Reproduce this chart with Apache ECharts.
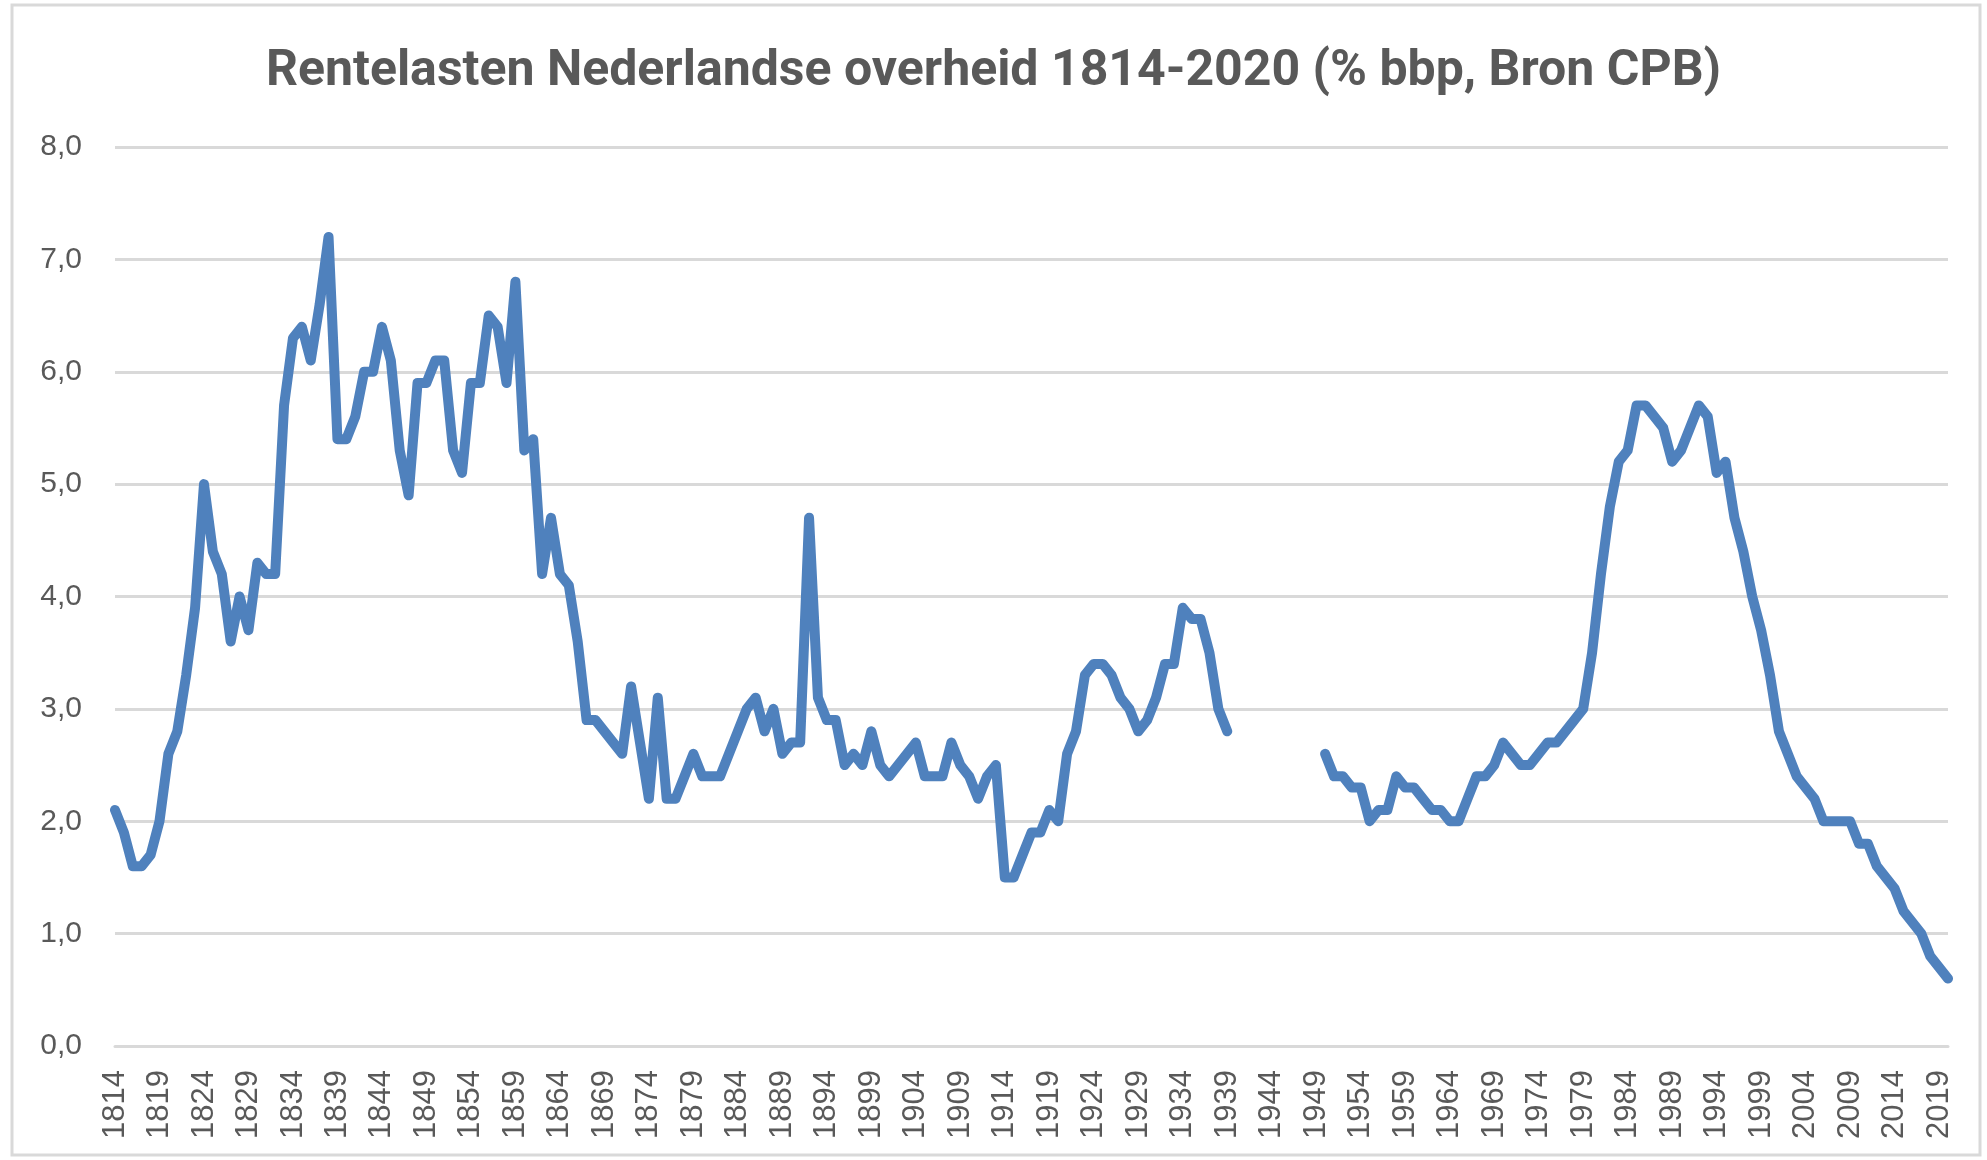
<!DOCTYPE html>
<html>
<head>
<meta charset="utf-8">
<script src="https://cdn.jsdelivr.net/npm/echarts@6/dist/echarts.min.js"></script>
<style>
  html, body { margin: 0; padding: 0; background: #ffffff; }
  #chart { width: 1987px; height: 1160px; }
</style>
</head>
<body>
<div id="chart"></div>
<script>
// Years 1814-2020
const years = [];
for (let y = 1814; y <= 2020; y++) years.push(String(y));

// Interest burden (% of GDP), one row per decade
const v1814 = [2.1, 1.9, 1.6, 1.6, 1.7, 2.0, 2.6, 2.8, 3.3, 3.9];
const v1824 = [5.0, 4.4, 4.2, 3.6, 4.0, 3.7, 4.3, 4.2, 4.2, 5.7];
const v1834 = [6.3, 6.4, 6.1, 6.6, 7.2, 5.4, 5.4, 5.6, 6.0, 6.0];
const v1844 = [6.4, 6.1, 5.3, 4.9, 5.9, 5.9, 6.1, 6.1, 5.3, 5.1];
const v1854 = [5.9, 5.9, 6.5, 6.4, 5.9, 6.8, 5.3, 5.4, 4.2, 4.7];
const v1864 = [4.2, 4.1, 3.6, 2.9, 2.9, 2.8, 2.7, 2.6, 3.2, 2.7];
const v1874 = [2.2, 3.1, 2.2, 2.2, 2.4, 2.6, 2.4, 2.4, 2.4, 2.6];
const v1884 = [2.8, 3.0, 3.1, 2.8, 3.0, 2.6, 2.7, 2.7, 4.7, 3.1];
const v1894 = [2.9, 2.9, 2.5, 2.6, 2.5, 2.8, 2.5, 2.4, 2.5, 2.6];
const v1904 = [2.7, 2.4, 2.4, 2.4, 2.7, 2.5, 2.4, 2.2, 2.4, 2.5];
const v1914 = [1.5, 1.5, 1.7, 1.9, 1.9, 2.1, 2.0, 2.6, 2.8, 3.3];
const v1924 = [3.4, 3.4, 3.3, 3.1, 3.0, 2.8, 2.9, 3.1, 3.4, 3.4];
const v1934 = [3.9, 3.8, 3.8, 3.5, 3.0, 2.8, null, null, null, null];
const v1944 = [null, null, null, null, null, null, 2.6, 2.4, 2.4, 2.3];
const v1954 = [2.3, 2.0, 2.1, 2.1, 2.4, 2.3, 2.3, 2.2, 2.1, 2.1];
const v1964 = [2.0, 2.0, 2.2, 2.4, 2.4, 2.5, 2.7, 2.6, 2.5, 2.5];
const v1974 = [2.6, 2.7, 2.7, 2.8, 2.9, 3.0, 3.5, 4.2, 4.8, 5.2];
const v1984 = [5.3, 5.7, 5.7, 5.6, 5.5, 5.2, 5.3, 5.5, 5.7, 5.6];
const v1994 = [5.1, 5.2, 4.7, 4.4, 4.0, 3.7, 3.3, 2.8, 2.6, 2.4];
const v2004 = [2.3, 2.2, 2.0, 2.0, 2.0, 2.0, 1.8, 1.8, 1.6, 1.5];
const v2014 = [1.4, 1.2, 1.1, 1.0, 0.8, 0.7, 0.6];

const values = [].concat(v1814, v1824, v1834, v1844, v1854, v1864, v1874, v1884,
  v1894, v1904, v1914, v1924, v1934, v1944, v1954, v1964, v1974, v1984, v1994, v2004, v2014);

const titleText = 'Rentelasten Nederlandse overheid 1814-2020 (% bbp, Bron CPB)';
const yTicks = [0, 1, 2, 3, 4, 5, 6, 7, 8];

const chart = echarts.init(document.getElementById('chart'), null, { renderer: 'canvas' });
chart.setOption({
  backgroundColor: '#ffffff',
  animation: false,
  title: {
    text: titleText,
    left: 'center',
    top: 42,
    textStyle: {
      fontFamily: "'Roboto', sans-serif",
      fontSize: 50,
      fontWeight: 'bold',
      color: '#595959'
    }
  },
  graphic: [{
    type: 'rect',
    shape: { x: 12, y: 5, width: 1968, height: 1150 },
    style: { fill: 'none', stroke: '#d9d9d9', lineWidth: 3 },
    silent: true,
    z: -1
  }],
  grid: { left: 115, right: 39, top: 147, bottom: 114, containLabel: false },
  xAxis: {
    type: 'category',
    data: years,
    boundaryGap: false,
    axisLine: { show: true, lineStyle: { color: '#d9d9d9', width: 3 } },
    axisTick: { show: false },
    axisLabel: {
      interval: 4,
      rotate: 90,
      margin: 24,
      fontFamily: "'Liberation Sans', sans-serif",
      fontSize: 31,
      color: '#595959'
    },
    splitLine: { show: false }
  },
  yAxis: {
    type: 'value',
    min: yTicks[0],
    max: yTicks[yTicks.length - 1],
    interval: 1,
    axisLine: { show: false },
    axisTick: { show: false },
    axisLabel: {
      margin: 33,
      fontFamily: "'Liberation Sans', sans-serif",
      fontSize: 30,
      color: '#595959',
      formatter: v => v.toFixed(1).replace('.', ',')
    },
    splitLine: { show: true, lineStyle: { color: '#d9d9d9', width: 3 } }
  },
  series: [{
    type: 'line',
    data: values,
    showSymbol: false,
    connectNulls: false,
    lineStyle: { color: '#4f81bd', width: 10, join: 'round', cap: 'round' },
    itemStyle: { color: '#4f81bd' }
  }]
});
</script>
</body>
</html>
